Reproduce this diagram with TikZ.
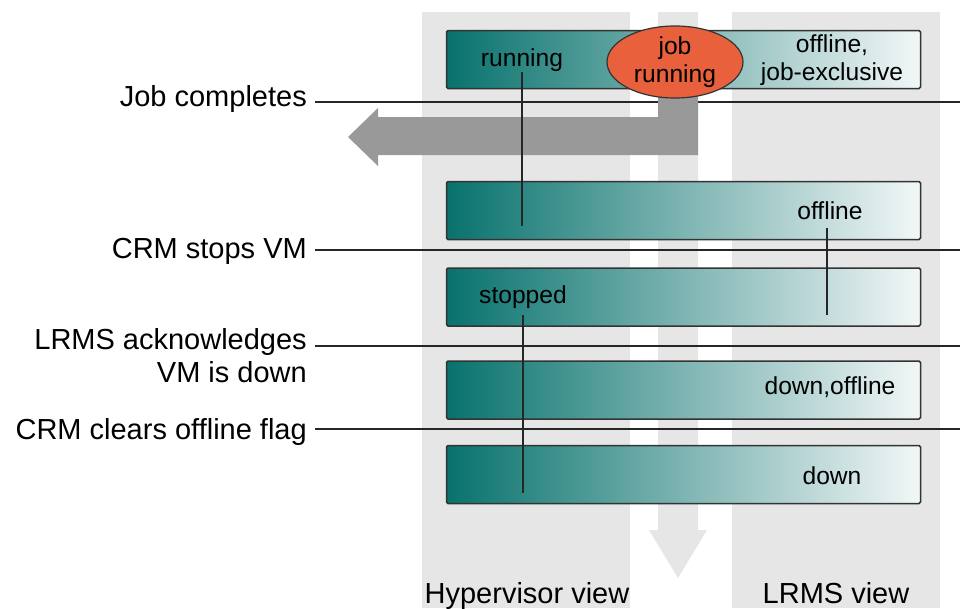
\documentclass[tikz,border=0pt]{standalone}
\usepackage{fontspec}
\setmainfont{Liberation Sans}
\usetikzlibrary{positioning}
\usetikzlibrary{shapes.geometric}

\definecolor{viewgray}{HTML}{E6E6E6}
\definecolor{arrowgray}{HTML}{999999}
\definecolor{barteal}{HTML}{08726D}
\definecolor{barpale}{HTML}{F2F7F7}
\definecolor{bardark}{HTML}{333333}
\definecolor{jobred}{HTML}{E9603D}

\begin{document}
\begin{tikzpicture}
        [
            x=1pt, y=-1pt,
            bar/.style={rectangle, draw=bardark, line width=1.5pt, rounded corners=1.5pt, minimum width=474pt, minimum height=58pt, left color=barteal, right color=barpale},
            tag/.style={font=\fontsize{24.6}{28}\selectfont, align=center, inner sep=0pt},
            event/.style={font=\fontsize{29}{33}\selectfont, align=right, anchor=east, inner sep=0pt},
            marker/.style={line width=1.5pt, draw=black!85}
        ]
        \useasboundingbox (0,0) rectangle (960,608);
        %views
        \fill[viewgray] (422,12) rectangle (630,608);
        \fill[viewgray] (732,12) rectangle (940,608);
        \fill[viewgray] (658,12) -- (698,12) -- (698,530) -- (707,530) -- (678,578) -- (649,530) -- (658,530) -- cycle;
        \node[font=\fontsize{29}{33}\selectfont, anchor=base] at (527,603) (hv_view)   {Hypervisor view};
        \node[font=\fontsize{29}{33}\selectfont, anchor=base] at (836,603) (lrms_view) {LRMS view};
        %events
        \coordinate (jobdone_l)  at (315,102);  \coordinate (jobdone_r)  at (960,102);
        \coordinate (stopvm_l)   at (315,250);  \coordinate (stopvm_r)   at (960,250);
        \coordinate (ackdown_l)  at (315,346);  \coordinate (ackdown_r)  at (960,346);
        \coordinate (clearoff_l) at (315,429);  \coordinate (clearoff_r) at (960,429);
        \node[event] at (307,99)  (jobdone)  {Job completes};
        \node[event] at (307,251) (stopvm)   {CRM stops VM};
        \node[event] at (307,356) (ackdown)  {LRMS acknowledges\\VM is down};
        \node[event] at (307,432) (clearoff) {CRM clears offline flag};
        \draw[marker] (jobdone_l)  -- (jobdone_r);
        \draw[marker] (stopvm_l)   -- (stopvm_r);
        \draw[marker] (ackdown_l)  -- (ackdown_r);
        \draw[marker] (clearoff_l) -- (clearoff_r);
        %bars
        \node[bar] at (683.5,59.5)  (bar_jobrun)  {};
        \node[bar] at (683.5,210.5) (bar_offline) {};
        \node[bar] at (683.5,297)   (bar_stopped) {};
        \node[bar] at (683.5,390)   (bar_downoff) {};
        \node[bar] at (683.5,474.5) (bar_down)    {};
        %job completes arrow
        \fill[arrowgray] (658,85) -- (698,85) -- (698,155) -- (378,155) -- (378,166) -- (348,137)
            -- (378,108) -- (378,117) -- (658,117) -- cycle;
        \node[tag, ellipse, draw=bardark, line width=1.2pt, fill=jobred, minimum width=136pt, minimum height=64pt] at (675,62) (jobrun) {job\\running};
        %states
        \node[tag] at (522,60)  (running)  {running};
        \node[tag] at (832,60)  (offjob)   {offline,\\job-exclusive};
        \node[tag] at (830,211) (offline)  {offline};
        \node[tag] at (523,297) (stopped)  {stopped};
        \node[tag] at (830,387) (downoff)  {down,offline};
        \node[tag] at (832,476) (down)     {down};
        \coordinate (running_end) at (running.south |- 0,226);
        \coordinate (offline_end) at (827,315);
        \coordinate (stopped_end) at (stopped.south |- 0,493);
        %arrows
        \draw[marker] (running.south) -- (running_end);
        \draw[marker] ([yshift=-8pt]offline.south -| offline_end) -- (offline_end);
        \draw[marker] ([yshift=-6pt]stopped.south) -- (stopped_end);
    \end{tikzpicture}
\end{document}
